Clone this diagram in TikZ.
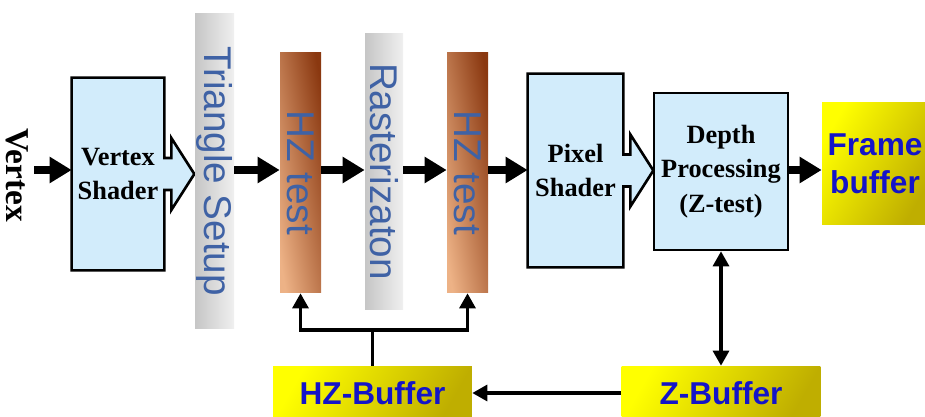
\documentclass[tikz,border=0pt]{standalone}
\usepackage{fontspec}
\setmainfont{Liberation Serif}
\setsansfont{Liberation Sans}
\usetikzlibrary{arrows.meta, backgrounds, calc}
\definecolor{shaderblue}{HTML}{D2ECFB}
\definecolor{bartext}{HTML}{3F62A5}
\definecolor{bufblue}{HTML}{1414C8}
\definecolor{bufyellow}{HTML}{FFFF00}
\definecolor{bufmid}{HTML}{F0E600}
\definecolor{bufdark}{HTML}{BFAE00}
\definecolor{hzlight}{HTML}{EDB286}
\definecolor{hzmid}{HTML}{CC7A45}
\definecolor{hzdark}{HTML}{8A3810}

\tikzset{
  blockfont/.style={font=\fontsize{15}{19.5}\selectfont\bfseries},
  shader/.style={blockfont, align=center, inner sep=0pt,
    minimum width=1.84cm, minimum height=3.84cm},
  outline/.style={draw=black, line width=1.5pt, fill=shaderblue},
  depthbox/.style={blockfont, align=center, inner sep=0pt, draw=black,
    line width=1.5pt, fill=shaderblue, minimum width=2.68cm, minimum height=3.14cm},
  bar/.style={inner sep=0pt, minimum width=0.78cm},
  graybar/.style={bar, left color=gray!45, middle color=gray!22, right color=gray!12},
  hzbar/.style={bar, left color=hzlight, middle color=hzmid, right color=hzdark,
    shading angle=100, minimum width=0.82cm, minimum height=4.82cm},
  bartxt/.style={font=\sffamily\fontsize{22}{22}\selectfont, text=bartext, rotate=-90},
  buffer/.style={font=\sffamily\bfseries\fontsize{18}{21.5}\selectfont, text=bufblue,
    align=center, inner sep=0pt, left color=bufyellow, middle color=bufmid,
    right color=bufdark, shading angle=60, minimum width=3.98cm, minimum height=1.08cm},
  vlabel/.style={font=\fontsize{19}{19}\selectfont\bfseries, rotate=-90},
  bigarrow/.style={line width=4pt, -{Triangle[length=0.44cm, width=0.5cm]}},
  thinline/.style={line width=1.8pt},
  thinarrow/.style={thinline, -{Triangle[length=0.3cm, width=0.32cm]}},
  twoway/.style={thinline, {Triangle[length=0.3cm, width=0.32cm]}-{Triangle[length=0.3cm, width=0.32cm]}}
}

% shader block: rectangle with an arrow head on its right side
\newcommand{\shaderpath}[1]{%
  \draw[outline] (#1.north west) -- (#1.north east)
    -- ($(#1.east)+(0,-16)$) -- ++(7,0) -- ++(0,-20)
    -- ($(#1.east)+(30,0)$) -- ($(#1.east)+(7,36)$) -- ++(0,-20)
    -- ($(#1.east)+(0,16)$) -- (#1.south east) -- (#1.south west) -- cycle;}

\begin{document}
\begin{tikzpicture}[x=0.02cm, y=-0.02cm]
  \useasboundingbox (0,0) rectangle (925,416);

  % pipeline
  \node[vlabel] (vtx) at (17,175) {Vertex};
  \node[shader] (vs) at (118,174) {Vertex\\Shader};
  \node[graybar, minimum height=6.32cm,
    label={[bartxt]center:Triangle Setup}] (ts) at (214.5,171) {};
  \node[hzbar, label={[bartxt]center:HZ test}] (hz1) at (300.5,172.5) {};
  \node[graybar, minimum width=0.76cm, minimum height=5.54cm,
    label={[bartxt]center:Rasterizaton}] (ras) at (384,171.5) {};
  \node[hzbar, label={[bartxt]center:HZ test}] (hz2) at (467.5,172.5) {};
  \node[shader, minimum width=1.9cm, minimum height=3.86cm] (ps) at (575.5,170.5) {Pixel\\Shader};
  \node[depthbox] (dp) at (721,171.5) {Depth\\Processing\\(Z-test)};
  \node[buffer, minimum width=2.12cm, minimum height=2.46cm] (fb) at (875,163.5) {Frame\\buffer};

  % buffers
  \node[buffer] (hzb) at (372.5,393) {HZ-Buffer};
  \node[buffer] (zb) at (721,393) {Z-Buffer};

  \begin{scope}[on background layer]
    \shaderpath{vs}
    \shaderpath{ps}
  \end{scope}

  % main flow
  \coordinate (axis) at (0,170);
  \draw[bigarrow] (vtx.north |- axis) -- (vs.west |- axis);
  \draw[bigarrow] (ts.east |- axis) -- (hz1.west |- axis);
  \draw[bigarrow] (hz1.east |- axis) -- (ras.west |- axis);
  \draw[bigarrow] (ras.east |- axis) -- (hz2.west |- axis);
  \draw[bigarrow] (hz2.east |- axis) -- (ps.west |- axis);
  \draw[bigarrow] (dp.east |- axis) -- (fb.west |- axis);

  % feedback
  \coordinate (split) at (hzb.north |- 0,330);
  \draw[thinline] (hzb.north) -- (split);
  \draw[thinarrow] (split) -| (hz1.south);
  \draw[thinarrow] (split) -| (hz2.south);
  \draw[thinarrow] (zb.west) -- (hzb.east);
  \draw[twoway] (dp.south) -- (zb.north);
\end{tikzpicture}
\end{document}
